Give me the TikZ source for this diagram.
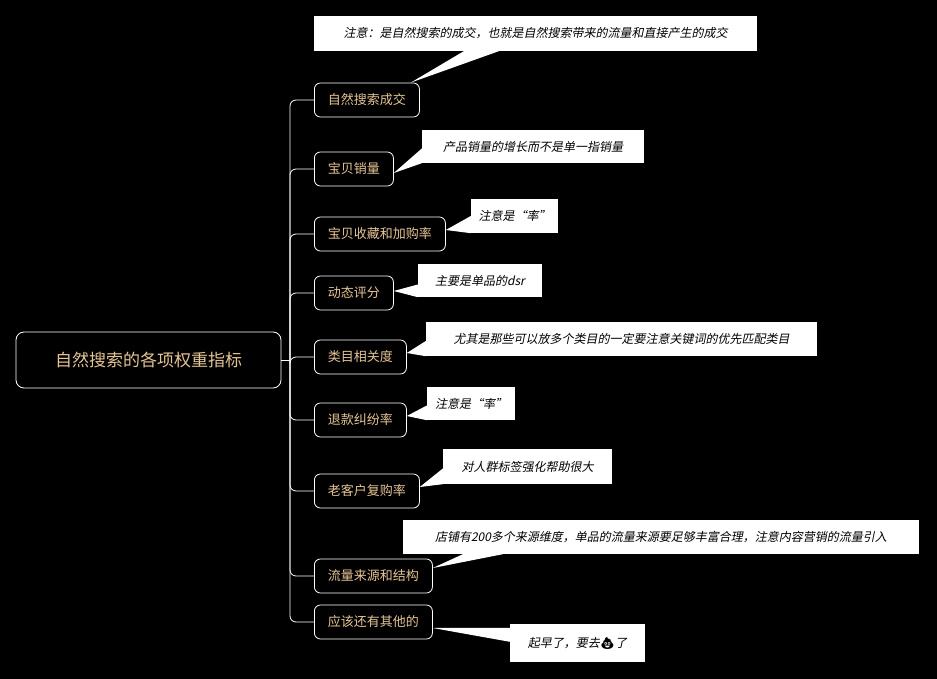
\documentclass[tikz,border=0pt]{standalone}
\usepackage{fontspec}
\setmainfont{Noto Sans CJK SC}
\newfontfamily\cjki[FakeSlant=0.2]{Noto Sans CJK SC}
\newfontfamily\emoji{Noto Emoji}
\usetikzlibrary{calc}
\definecolor{gold}{HTML}{E6C596}
\begin{document}
\begin{tikzpicture}[x=1pt,y=-1pt,
  topic/.style={draw=white,line width=0.8pt,rounded corners=6pt,text=gold,font=\fontsize{13}{15}\selectfont,inner sep=0pt,anchor=west,minimum height=34pt,fill=black},
  note/.style={fill=white,text=black,font=\cjki\fontsize{12}{14}\selectfont,inner sep=0pt},
  wedge/.style={fill=white},
  link/.style={draw=white,line width=0.8pt,rounded corners=6pt}]
\fill[black] (0,0) rectangle (937,679);
\useasboundingbox (0,0) rectangle (937,679);
\node[draw=white,line width=0.8pt,rounded corners=8pt,text=gold,font=\fontsize{17}{20}\selectfont,minimum width=265pt,minimum height=56pt,inner sep=0pt] (root) at (148.5,360) {自然搜索的各项权重指标};
\foreach \n/\y/\w/\t in {1/100/105/自然搜索成交,2/169/79/宝贝销量,3/234/131/宝贝收藏和加购率,4/293/79/动态评分,5/357/92/类目相关度,6/420/92/退款纠纷率,7/491/105/老客户复购率,8/576/118/流量来源和结构,9/622/118/应该还有其他的}{
  \node[topic,minimum width=\w pt] (n\n) at (314,\y) {\t};
}
\draw[link] (root.east) -- (290,360);
\foreach \n in {1,...,9}{\draw[link] (290,360) |- (n\n.west);}
% notes
\node[note,minimum width=443pt,minimum height=35pt] (c1) at (535.5,33.5) {注意：是自然搜索的成交，也就是自然搜索带来的流量和直接产生的成交};
\node[note,minimum width=222pt,minimum height=33pt] (c2) at (533,146.5) {产品销量的增长而不是单一指销量};
\node[note,minimum width=87pt,minimum height=34pt] (c3) at (514.5,216) {注意是“率”};
\node[note,minimum width=124pt,minimum height=33pt] (c4) at (480,280.5) {主要是单品的dsr};
\node[note,minimum width=391pt,minimum height=34pt] (c5) at (621.5,339) {尤其是那些可以放多个类目的一定要注意关键词的优先匹配类目};
\node[note,minimum width=88pt,minimum height=33pt] (c6) at (471,403.5) {注意是“率”};
\node[note,minimum width=169pt,minimum height=35pt] (c7) at (527.5,466.5) {对人群标签强化帮助很大};
\node[note,minimum width=516pt,minimum height=34pt] (c8) at (661,537) {店铺有200多个来源维度，单品的流量来源要足够丰富合理，注意内容营销的流量引入};
\node[note,minimum width=135pt,minimum height=38pt] (c9) at (577.5,643) {起早了，要去{\emoji 💩}了};
% wedges
\fill[wedge] ($(n1.north east)+(-9,0)$) -- ($(c1.south west)+(150,0)$) -- ($(c1.south west)+(185,0)$) -- cycle;
\fill[wedge] ($(n2.east)+(0,4)$) -- ($(c2.west)+(0,2)$) -- ($(c2.south west)+(0,0)$) -- cycle;
\fill[wedge] ($(n3.east)+(0,-4)$) -- ($(c3.west)+(0,0)$) -- ($(c3.south west)+(0,0)$) -- cycle;
\fill[wedge] ($(n4.east)+(0,-2)$) -- ($(c4.west)+(0,4)$) -- ($(c4.south west)+(0,0)$) -- cycle;
\fill[wedge] ($(n5.east)+(0,-4)$) -- ($(c5.west)+(0,2)$) -- ($(c5.south west)+(0,0)$) -- cycle;
\fill[wedge] ($(n6.east)+(0,-4)$) -- ($(c6.west)+(0,2)$) -- ($(c6.south west)+(0,0)$) -- cycle;
\fill[wedge] ($(n7.east)+(0,-4)$) -- ($(c7.west)+(0,2)$) -- ($(c7.south west)+(0,0)$) -- cycle;
\fill[wedge] ($(n8.east)+(0,-8)$) -- ($(c8.south west)+(60,0)$) -- ($(c8.south west)+(100,0)$) -- cycle;
\fill[wedge] ($(n9.east)+(0,6)$) -- ($(c9.north west)+(0,4)$) -- ($(c9.north west)+(0,18)$) -- cycle;
\end{tikzpicture}
\end{document}
